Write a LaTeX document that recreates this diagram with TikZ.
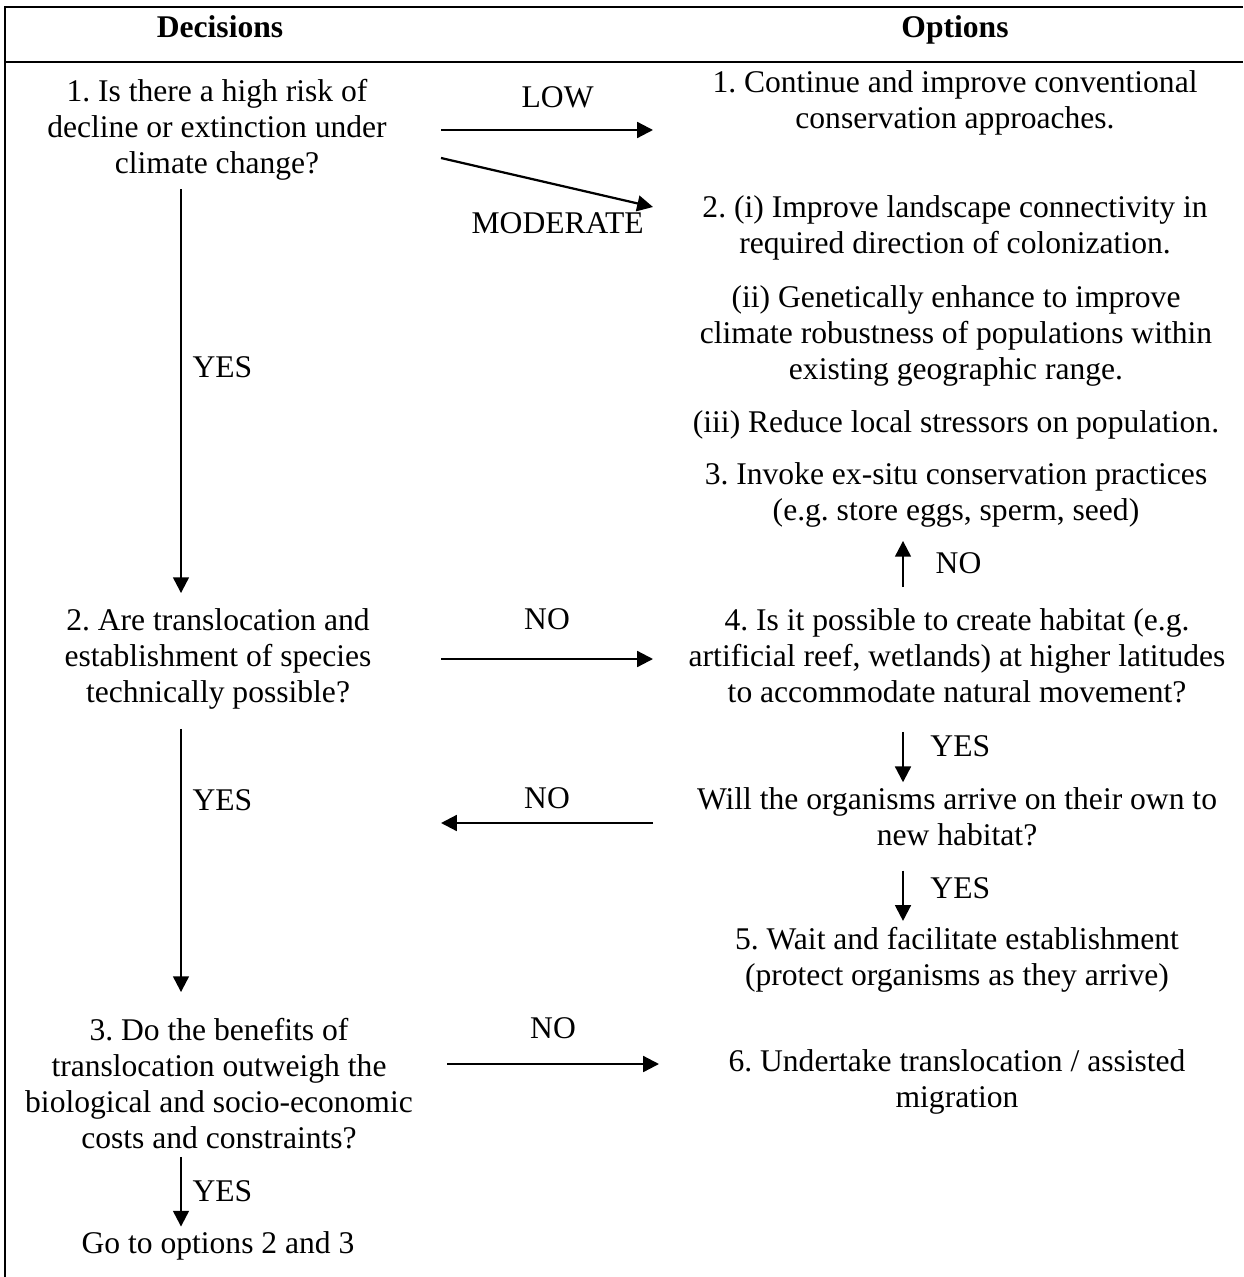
\documentclass[tikz,border=0pt]{standalone}
\usepackage{fontspec}
\setmainfont{Liberation Serif}
\usetikzlibrary{arrows.meta,calc}

\tikzset{
  txt/.style={align=center, inner sep=0pt, font=\fontsize{12}{13.7}\selectfont},
  head/.style={anchor=base, inner sep=0pt, font=\fontsize{12}{13.7}\selectfont\bfseries},
  lbl/.style={inner sep=0pt, font=\fontsize{12}{13.7}\selectfont},
  arr/.style={line width=0.85pt, -{Triangle[length=6pt,width=6pt]}},
  frame/.style={line width=1.1pt}
}

\begin{document}
\frenchspacing
\begin{tikzpicture}[x=0.38pt,y=-0.38pt]
\useasboundingbox (0,0) rectangle (1243,1277);

\draw[frame] (1243,7) -- (5,7) -- (5,1277);
\draw[frame] (5,62) -- (1243,62);

\node[head] (dec) at (220,38) {Decisions};
\node[head] (opt) at (955,38) {Options};

% decisions
\node[txt] (q1) at (217,130) {1. Is there a high risk of\\decline or extinction under\\climate change?};
\node[txt] (q2) at (218,659) {2. Are translocation and\\establishment of species\\technically possible?};
\node[txt] (q3) at (219,1084) {3. Do the benefits of\\translocation outweigh the\\biological and socio-economic\\costs and constraints?};
\node[txt,anchor=base] (go) at (218,1253) {Go to options 2 and 3};

% options
\node[txt] (o1) at (955,103) {1. Continue and improve conventional\\conservation approaches.};
\node[txt] (o2a) at (955,228) {2. (i) Improve landscape connectivity in\\required direction of colonization.};
\node[txt] (o2b) at (956,336) {(ii) Genetically enhance to improve\\climate robustness of populations within\\existing geographic range.};
\node[txt,anchor=base] (o2c) at (956,432) {(iii) Reduce local stressors on population.};
\node[txt] (o3) at (956,495) {3. Invoke ex-situ conservation practices\\(e.g. store eggs, sperm, seed)};
\node[txt] (o4) at (957,656) {4. Is it possible to create habitat (e.g.\\artificial reef, wetlands) at higher latitudes\\to accommodate natural movement?};
\node[txt] (will) at (957,817) {Will the organisms arrive on their own to\\new habitat?};
\node[txt] (o5) at (957,960) {5. Wait and facilitate establishment\\(protect organisms as they arrive)};
\node[txt] (o6) at (957,1082) {6. Undertake translocation / assisted\\migration};

\coordinate (lc) at (181,0);
\coordinate (rc) at (903,0);
\coordinate (lx) at (441,0);
\coordinate (rx) at (653,0);

\draw[arr] (q1.east -| lx) -- (q1.east -| rx) node[lbl,pos=0.55,above=8pt] (low) {LOW};
\draw[arr] ($(q1.east -| lx)+(0,28)$) -- ($(o2a.west -| rx)+(0,-21)$) node[lbl,pos=0.55,below=10pt] (mod) {MODERATE};
\draw[arr] ($(q1.south -| lc)+(0,8)$) -- ($(q2.north -| lc)+(0,-15)$) node[lbl,pos=0.44,right=4pt] (yes1) {YES};

\draw[arr] (q2.east -| lx) -- (q2.east -| rx) node[lbl,midway,above=10.6pt] (no1) {NO};
\draw[arr] ($(q2.south -| lc)+(0,19)$) -- ($(q3.north -| lc)+(0,-26)$) node[lbl,pos=0.27,right=4pt] (yes2) {YES};
\draw[arr] ($(will.west -| rx)+(0,6)$) -- ($(will.west -| lx)+(0,6)$) node[lbl,midway,above=5pt] (no2) {NO};

\draw[arr] ($(q3.east -| lx)+(6,-20)$) -- ($(q3.east -| rx)+(6,-20)$) node[lbl,midway,above=9pt] (no3) {NO};
\draw[arr] ($(q3.south -| lc)+(0,7)$) -- ($(go.north -| lc)+(0,-4)$) node[lbl,pos=0.49,right=4pt] (yes3) {YES};

\draw[arr] ($(o4.north -| rc)+(0,-21)$) -- ($(o3.south -| rc)+(0,13)$) node[lbl,pos=0.51,right=12pt] (no4) {NO};
\draw[arr] ($(o4.south -| rc)+(0,28)$) -- ($(will.north -| rc)+(0,-5)$) node[lbl,pos=0.28,right=10pt] (yes4) {YES};
\draw[arr] ($(will.south -| rc)+(0,24)$) -- ($(o5.north -| rc)+(0,-6)$) node[lbl,pos=0.34,right=10pt] (yes5) {YES};

\end{tikzpicture}
\end{document}
